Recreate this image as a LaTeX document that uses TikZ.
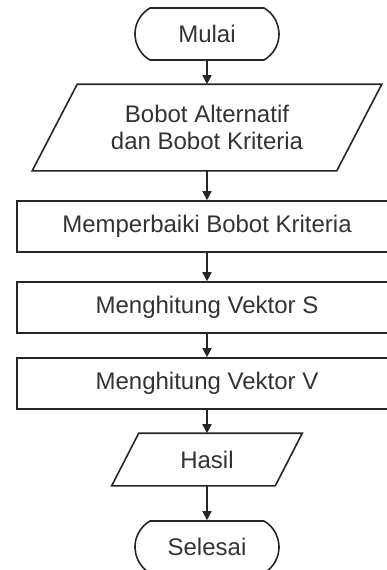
\documentclass[tikz,border=0pt]{standalone}
\usepackage{fontspec}
\setmainfont{Liberation Sans}
\usetikzlibrary{shapes.misc,arrows.meta}
\begin{document}
\begin{tikzpicture}[
                x=0.5pt, y=-0.5pt,
                font=\fontsize{12}{13.5}\selectfont,
                >={Triangle[length=4.5pt,width=4.5pt]},
                every node/.style={line width=0.8pt, text=black!80, align=center, inner sep=0pt},
                terminal/.style={draw=black!85, rounded rectangle, rounded rectangle arc length=120, minimum width=72pt, minimum height=26pt},
                io/.style={rectangle},
                process/.style={draw=black!85, rectangle, minimum width=190pt, minimum height=25.5pt},
                outline/.style={draw=black!85, line width=0.8pt},
                flow/.style={->, draw=black!85, line width=0.8pt}
            ]
            \useasboundingbox (0,0) rectangle (387,570);

            % Nodes
            \node[terminal] (mulai) at (207,34) {Mulai};
            \node[io, minimum width=151.5pt, minimum height=42.5pt] (bobot) at (207,127.5) {Bobot Alternatif\\dan Bobot Kriteria};
            \node[process] (perbaiki) at (207,226.5) {Memperbaiki Bobot Kriteria};
            \node[process] (vektorS) at (207,307.5) {Menghitung Vektor S};
            \node[process] (vektorV) at (207,383.5) {Menghitung Vektor V};
            \node[io, minimum width=81pt, minimum height=25.5pt] (hasil) at (207,459.5) {Hasil};
            \node[terminal] (selesai) at (207,547) {Selesai};

            % Input / output outlines
            \draw[outline] ([xshift=11.25pt]bobot.north west) -- ([xshift=11.25pt]bobot.north east)
                -- ([xshift=-11.25pt]bobot.south east) -- ([xshift=-11.25pt]bobot.south west) -- cycle;
            \draw[outline] ([xshift=6.75pt]hasil.north west) -- ([xshift=6.75pt]hasil.north east)
                -- ([xshift=-6.75pt]hasil.south east) -- ([xshift=-6.75pt]hasil.south west) -- cycle;

            % Arrows
            \draw[flow] (mulai.south) -- (bobot.north);
            \draw[flow] (bobot.south) -- (perbaiki.north);
            \draw[flow] (perbaiki.south) -- (vektorS.north);
            \draw[flow] (vektorS.south) -- (vektorV.north);
            \draw[flow] (vektorV.south) -- (hasil.north);
            \draw[flow] (hasil.south) -- (selesai.north);
        \end{tikzpicture}
\end{document}
